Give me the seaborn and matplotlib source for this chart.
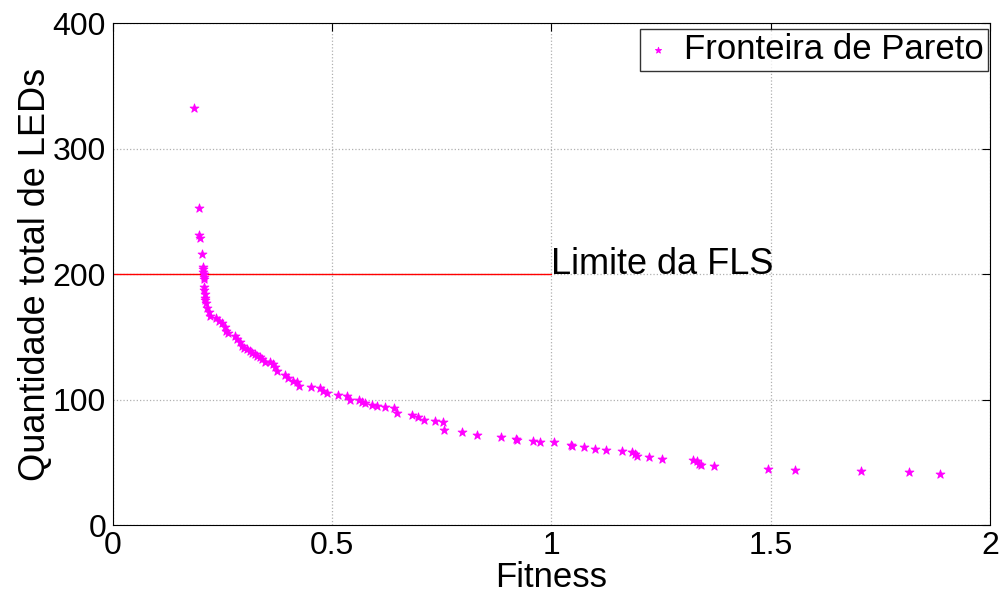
import matplotlib
matplotlib.use("Agg")
import matplotlib.pyplot as plt
import seaborn as sns
import pandas as pd

fitness = [0.185, 0.197, 0.197, 0.198, 0.204, 0.205, 0.206, 0.206, 0.207, 0.207, 0.207,
           0.208, 0.208, 0.209, 0.209, 0.210, 0.212, 0.215, 0.218, 0.221,
           0.236, 0.242, 0.248, 0.255, 0.258, 0.262, 0.278, 0.284, 0.290, 0.294,
           0.298, 0.306, 0.312, 0.318, 0.324, 0.328, 0.335, 0.341, 0.347,
           0.358, 0.364, 0.370, 0.374, 0.392, 0.400, 0.410, 0.420, 0.424,
           0.451, 0.472, 0.480, 0.488, 0.513, 0.533, 0.541, 0.561, 0.568, 0.575,
           0.590, 0.603, 0.620, 0.641, 0.647, 0.681, 0.696, 0.710, 0.734, 0.753,
           0.756, 0.795, 0.831, 0.885, 0.920, 0.922, 0.957, 0.974, 1.006, 1.044,
           1.048, 1.074, 1.099, 1.124, 1.160, 1.183, 1.190, 1.196, 1.222, 1.253,
           1.322, 1.331, 1.336, 1.342, 1.371, 1.494, 1.555, 1.707, 1.816, 1.886]
leds = [332, 253, 231, 229, 216, 206, 204, 202, 200, 198, 196,
        190, 187, 184, 181, 179, 177, 173, 170, 167,
        165, 163, 161, 158, 155, 153, 151, 148, 146, 143,
        141, 140, 139, 137, 136, 135, 134, 132, 130,
        130, 128, 126, 123, 120, 117, 115, 114, 111,
        110, 109, 107, 105, 104, 103, 100, 100, 98, 97,
        96, 95, 94, 93, 89, 88, 86, 84, 83, 82,
        76, 74, 72, 70, 69, 68, 67, 66, 66, 64,
        63, 62, 61, 60, 59, 58, 57, 55, 54, 53,
        52, 51, 49, 48, 47, 45, 44, 43, 42, 41]

limit_x = [0, 1]
limit_y = [200, 200]

df = pd.DataFrame({"Fitness": fitness, "LEDs": leds})

sns.set_style("white")
plt.rcParams['font.family'] = ['Liberation Sans', 'DejaVu Sans']
plt.rcParams['text.color'] = 'black'
plt.rcParams['axes.labelcolor'] = 'black'
plt.rcParams['xtick.color'] = 'black'
plt.rcParams['ytick.color'] = 'black'

fig = plt.figure(figsize=(10.04, 5.94), dpi=100)
ax = fig.add_axes([0.1125, 0.116, 0.8735, 0.845])

sns.scatterplot(data=df, x="Fitness", y="LEDs", marker="*", color="#ff00ff",
                s=45, linewidth=0.6, edgecolor="#ff00ff", ax=ax,
                label="Fronteira de Pareto", zorder=3)
ax.plot(limit_x, limit_y, color="red", linewidth=1.0, zorder=2)
ax.text(1.0, 200, "Limite da FLS", fontsize=26, ha="left", va="baseline",
        color="black")

ax.set_xlim(0, 2)
ax.set_ylim(0, 400)
ax.set_xticks([0, 0.5, 1, 1.5, 2])
ax.set_xticklabels(["0", "0.5", "1", "1.5", "2"])
ax.set_yticks([0, 100, 200, 300, 400])
ax.tick_params(axis="both", direction="in", labelsize=23, length=6, width=0.8,
               top=True, right=True)
ax.tick_params(axis="x", pad=4)
ax.tick_params(axis="y", pad=5)
ax.grid(True, linestyle=":", color="#b0b0b0", linewidth=0.9)
for sp in ax.spines.values():
    sp.set_color("black")
    sp.set_linewidth(0.8)
ax.set_xlabel("Fitness", fontsize=25, labelpad=0)
ax.set_ylabel("Quantidade total de LEDs", fontsize=26, labelpad=0)

leg = ax.legend(loc="upper right", bbox_to_anchor=(0.9977, 0.988), fontsize=25,
                frameon=True, fancybox=False, borderpad=0.12,
                handletextpad=0.36, borderaxespad=0.0,
                handlelength=0.8, markerscale=0.7)
leg.get_frame().set_edgecolor("black")
leg.get_frame().set_linewidth(1.0)

fig.savefig("out.png", dpi=100)
